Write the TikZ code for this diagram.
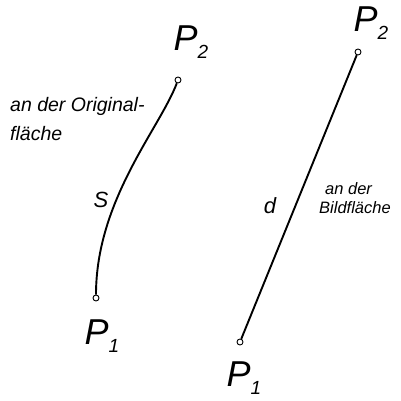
\documentclass[tikz,border=0pt]{standalone}
\usepackage{fontspec}
\setmainfont{Liberation Sans}
\begin{document}
\begin{tikzpicture}[x=1pt,y=-1pt,
  pt/.style={circle,draw,line width=0.9pt,inner sep=0pt,minimum size=6pt,fill=white},
  ln/.style={line width=1.9pt},
  big/.style={font=\fontsize{36}{36}\selectfont\itshape,inner sep=0pt},
  lbl/.style={font=\fontsize{19.5}{28}\selectfont\itshape,inner sep=0pt,anchor=base west},
  lbr/.style={font=\fontsize{16.5}{19}\selectfont\itshape,inner sep=0pt,anchor=base west},
  sym/.style={font=\fontsize{22}{22}\selectfont\itshape,inner sep=0pt}]
\useasboundingbox[fill=white] (0,0) rectangle (400,401);
% left
\node[pt] (a2) at (178,80) {};
\node[pt] (a1) at (96,298) {};
\draw[ln] (a2) .. controls (160,128) and (96,200) .. (a1);
\node[big] (la2) at (191,42) {P\raisebox{-8pt}{\fontsize{19}{19}\selectfont 2}};
\node[big] (la1) at (102,336) {P\raisebox{-8pt}{\fontsize{19}{19}\selectfont 1}};
\node[sym] (s) at (101,200) {S};
\node[lbl] (t1a) at (10,112) {an der Original-};
\node[lbl] (t1b) at (10,140) {fläche};
% right
\node[pt] (b2) at (358,52) {};
\node[pt] (b1) at (240,342) {};
\draw[ln] (b2) -- (b1);
\node[big] (lb2) at (371,23) {P\raisebox{-8pt}{\fontsize{19}{19}\selectfont 2}};
\node[big] (lb1) at (244,378) {P\raisebox{-8pt}{\fontsize{19}{19}\selectfont 1}};
\node[sym] (d) at (270,206) {d};
\node[lbr] (t2a) at (325,194) {an der};
\node[lbr] (t2b) at (319,213) {Bildfläche};
\end{tikzpicture}
\end{document}
